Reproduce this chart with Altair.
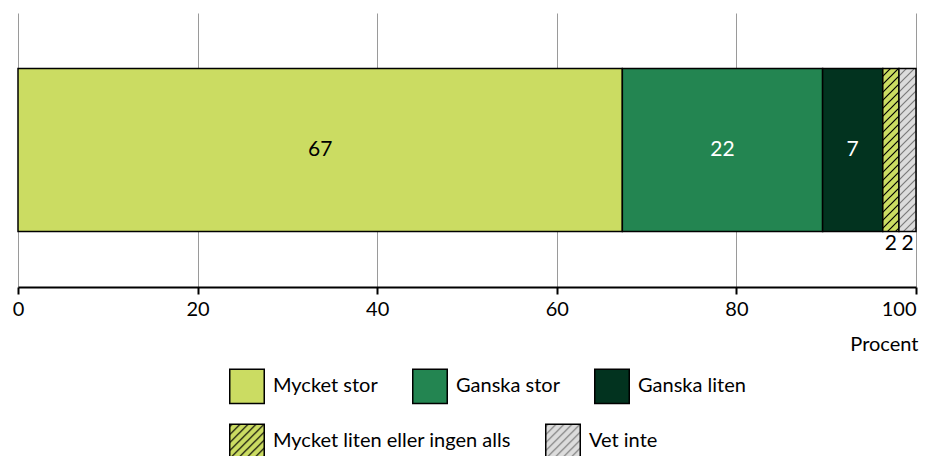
import altair as alt
import pandas as pd
import altair.utils.html as ah

categories = ["Mycket stor", "Ganska stor", "Ganska liten",
              "Mycket liten eller ingen alls", "Vet inte"]
values = [67.3, 22.3, 6.7, 1.8, 1.9]
labels = ["67", "22", "7", "2", "2"]
inside = [True, True, True, False, False]
hatched = [False, False, False, True, True]
text_colors = ["black", "white", "white", "black", "black"]
solid_cats = categories[:3]
solid_fills = ["#cbdc62", "#238551", "#02331f"]
hatch_cats = categories[3:]
hatch_fills = ["url(#hatchGreen)", "url(#hatchGray)"]
tick_values = [0, 20, 40, 60, 80, 100]

df = pd.DataFrame({
    "cat": categories,
    "value": values,
    "label": labels,
    "inside": inside,
    "hatched": hatched,
    "tcolor": text_colors,
    "order": list(range(len(categories))),
    "row": ["Andel"] * len(categories),
})

FONT = "Lato"

base = alt.Chart(df).transform_stack(
    stack="value", groupby=["row"], as_=["x0", "x1"],
    sort=[alt.SortField("order", order="ascending")]
).transform_calculate(mid="(datum.x0 + datum.x1) / 2")

yenc = alt.Y("row:N", axis=None,
             scale=alt.Scale(paddingInner=0, paddingOuter=0.34))

xenc = alt.X("x0:Q", scale=alt.Scale(domain=[0, 100], nice=False),
             axis=alt.Axis(values=tick_values, title="Procent", grid=True,
                           gridColor="#9a9a9a", gridWidth=1,
                           domainColor="black", domainWidth=2,
                           tickColor="black", tickWidth=2, tickSize=7,
                           labelFontSize=20, labelColor="black", labelFont=FONT,
                           labelPadding=5, labelFlush=False,
                           labelAlign={"condition": {"test": "datum.value == 100",
                                                     "value": "right"},
                                       "value": "center"},
                           titleFont=FONT, titleFontSize=20, titleFontWeight="normal",
                           titleColor="black", titleAlign="right",
                           titleAnchor="end", titleX=900, titleY=63,
                           titleBaseline="alphabetic"))


def legend_opts(ly):
    return dict(title=None, orient="none", legendX=211, legendY=ly,
                direction="horizontal", columnPadding=31,
                symbolType="square", symbolSize=1190,
                symbolStrokeColor="black", symbolStrokeWidth=1.5,
                symbolOpacity=1, labelFontSize=20, labelFont=FONT,
                labelColor="black", labelOffset=8, labelLimit=400, padding=0)


bars_solid = base.transform_filter("!datum.hatched").mark_bar(
    stroke="black", strokeWidth=1.5, opacity=1
).encode(
    x=xenc, x2="x1:Q", y=yenc,
    color=alt.Color("cat:N",
                    scale=alt.Scale(domain=solid_cats, range=solid_fills),
                    legend=alt.Legend(**legend_opts(355))),
)

bars_hatch = base.transform_filter("datum.hatched").mark_bar(
    stroke="black", strokeWidth=1.5, fillOpacity=1
).encode(
    x="x0:Q", x2="x1:Q", y=yenc,
    fill=alt.Fill("cat:N",
                  scale=alt.Scale(domain=hatch_cats, range=hatch_fills),
                  legend=alt.Legend(**legend_opts(410))),
)

text_in = base.transform_filter("datum.inside").mark_text(
    fontSize=21, font=FONT, baseline="middle", align="center"
).encode(
    x="mid:Q", y=yenc, text="label:N",
    color=alt.Color("tcolor:N", scale=None),
)

text_out = base.transform_filter("!datum.inside").mark_text(
    fontSize=21, font=FONT, baseline="middle", align="center", yOffset=94
).encode(
    x="mid:Q", y=yenc, text="label:N",
    color=alt.Color("tcolor:N", scale=None),
)

chart = alt.layer(bars_solid, bars_hatch, text_in, text_out).resolve_scale(
    color="independent", fill="independent"
).properties(
    width=898, height=274,
    padding={"left": 10, "top": 5, "right": 3, "bottom": 172},
    autosize=alt.AutoSizeParams(type="none"),
).configure_view(stroke=None)

DEFS = """<svg width="0" height="0" style="position:absolute" aria-hidden="true"><defs>
<pattern id="hatchGreen" patternUnits="userSpaceOnUse" width="8" height="8">
<rect width="8" height="8" fill="#cbdc62"/>
<path d="M-2,2 L2,-2 M0,8 L8,0 M6,10 L10,6" stroke="#000" stroke-width="1.2"/>
</pattern>
<pattern id="hatchGray" patternUnits="userSpaceOnUse" width="8" height="8">
<rect width="8" height="8" fill="#dcdcdc"/>
<path d="M-2,2 L2,-2 M0,8 L8,0 M6,10 L10,6" stroke="#7a7a7a" stroke-width="1.2"/>
</pattern>
</defs></svg>"""


class PatternTemplate:
    def render(self, **kw):
        html = ah.HTML_TEMPLATE.render(**kw)
        return html.replace("<div id=", DEFS + "<div id=", 1)


chart.save("out.html", embed_options={"renderer": "svg", "actions": False},
           template=PatternTemplate())
